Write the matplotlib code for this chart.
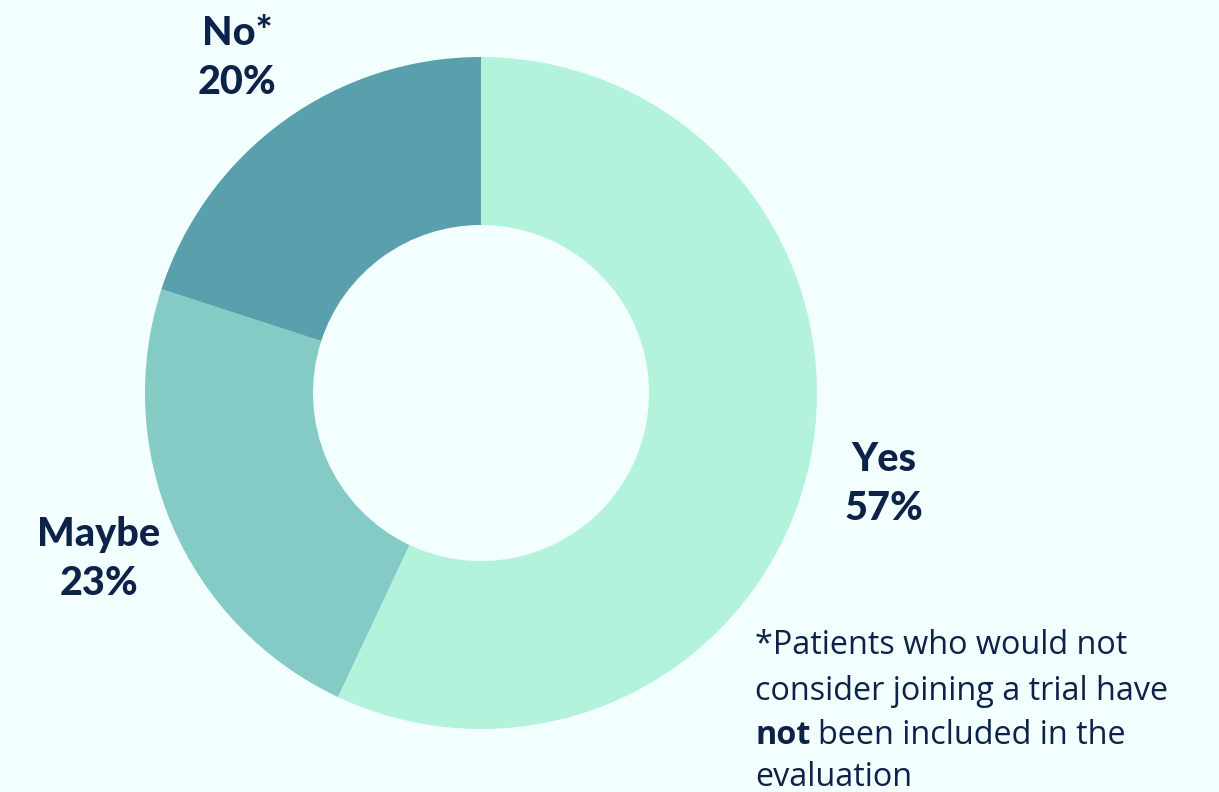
import matplotlib
matplotlib.use("Agg")
import matplotlib.pyplot as plt

labels = ["Yes", "Maybe", "No*"]
values = [57, 23, 20]
colors = ["#b3f3dc", "#84cac5", "#59a0ac"]
BG = "#f3fffe"
TXT = "#0d2248"

fig = plt.figure(figsize=(12.19, 7.92), dpi=100, facecolor=BG)
ax = fig.add_axes([0, 0, 1, 1])
ax.set_facecolor(BG)

ax.pie(values, colors=colors, startangle=90, counterclock=False,
       center=(481, 399), radius=336, frame=True,
       wedgeprops=dict(width=168, edgecolor="none"))
ax.set_xlim(0, 1219)
ax.set_ylim(0, 792)
ax.set_aspect("equal")
ax.axis("off")

label_pos = [(884, 308), (99, 233), (237, 734)]
for lab, v, (x, y) in zip(labels, values, label_pos):
    ax.text(x, y, f"{lab}\n{v}%", ha="center", va="center", fontsize=28.5,
            fontweight="black", color=TXT, family="Lato", linespacing=1.38)

fs = 23.3
FF = "Open Sans"
lines_y = [146, 101, 57, 14]
ax.text(755, lines_y[0], "*Patients who would not", ha="left", va="center",
        fontsize=fs, color=TXT, family=FF)
ax.text(755, lines_y[1], "consider joining a trial have", ha="left", va="center",
        fontsize=fs, color=TXT, family=FF)
t = ax.text(755, lines_y[2], "not", ha="left", va="center",
            fontsize=fs, color=TXT, family=FF, fontweight="bold")
fig.canvas.draw()
bb = t.get_window_extent()
x_end = ax.transData.inverted().transform((bb.x1, bb.y0))[0]
ax.text(x_end + 8, lines_y[2], "been included in the", ha="left", va="center",
        fontsize=fs, color=TXT, family=FF)
ax.text(755, lines_y[3], "evaluation", ha="left", va="center",
        fontsize=fs, color=TXT, family=FF)

fig.savefig("out.png", dpi=100, facecolor=BG)
